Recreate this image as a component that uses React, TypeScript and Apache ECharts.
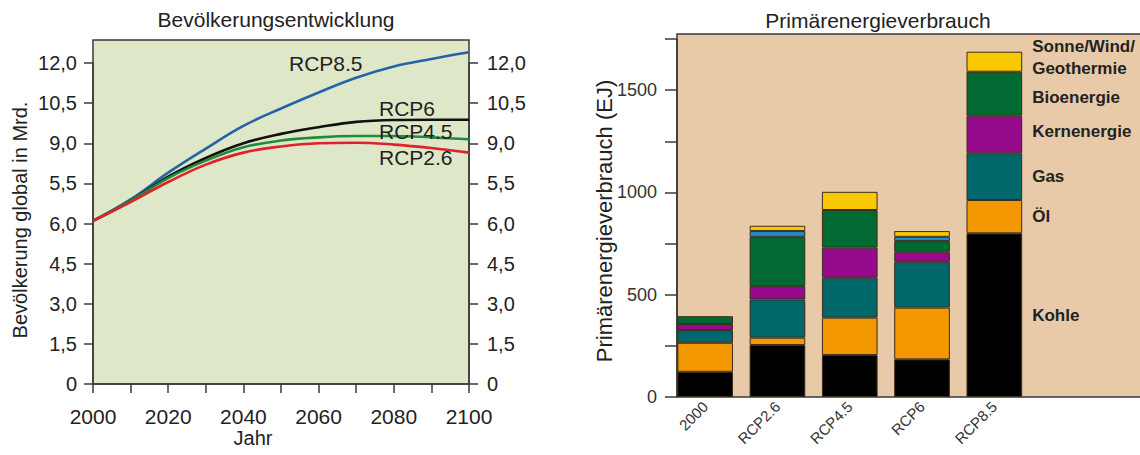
import React, { useEffect, useRef } from "react";
import * as echarts from "echarts";

// ---- Left chart: Bevölkerungsentwicklung ----
const years = [2000, 2010, 2020, 2030, 2040, 2050, 2060, 2070, 2080, 2090, 2100];
const rcp85 = [6.1, 6.9, 7.9, 8.8, 9.65, 10.3, 10.9, 11.45, 11.87, 12.15, 12.4];
const rcp6 = [6.1, 6.85, 7.75, 8.45, 9.0, 9.35, 9.6, 9.8, 9.87, 9.88, 9.88];
const rcp45 = [6.1, 6.85, 7.7, 8.35, 8.85, 9.1, 9.22, 9.27, 9.27, 9.22, 9.15];
const rcp26 = [6.1, 6.8, 7.55, 8.2, 8.65, 8.88, 9.0, 9.02, 8.95, 8.82, 8.65];
const popTickLabels = ["0", "1,5", "3,0", "4,5", "6,0", "5,5", "9,0", "10,5", "12,0"];

// ---- Right chart: Primärenergieverbrauch ----
const scenarios = ["2000", "RCP2.6", "RCP4.5", "RCP6", "RCP8.5"];
const kohle = [123, 254, 205, 184, 800];
const oel = [142, 36, 183, 253, 163];
const gas = [62, 187, 195, 224, 228];
const kern = [30, 65, 147, 49, 184];
const bio = [38, 241, 184, 52, 215];
const wasser = [0, 28, 0, 21, 0];
const sonne = [0, 26, 89, 28, 98];

const FONT = "'Liberation Sans', Arial, Helvetica, sans-serif";

export default function App() {
  const ref = useRef<HTMLDivElement>(null);

  useEffect(() => {
    if (!ref.current) return;
    const chart = echarts.init(ref.current, null, { renderer: "svg" });

    const lineSeries = (name: string, vals: number[], color: string) => ({
      type: "line",
      name,
      xAxisIndex: 0,
      yAxisIndex: 0,
      data: years.map((y, i) => [y, vals[i]]),
      smooth: 0.4,
      showSymbol: false,
      clip: false,
      lineStyle: { color, width: 2.6 },
      z: 5,
    });

    const energy = [
      { name: "Kohle", label: "Kohle", vals: kohle, color: "#000000", dy: 0 },
      { name: "Öl", label: "Öl", vals: oel, color: "#F39800", dy: 0 },
      { name: "Gas", label: "Gas", vals: gas, color: "#00686A", dy: 0 },
      { name: "Kernenergie", label: "Kernenergie", vals: kern, color: "#960A8C", dy: -3 },
      { name: "Bioenergie", label: "Bioenergie", vals: bio, color: "#006A32", dy: 4 },
      { name: "Wasserkraft", label: "", vals: wasser, color: "#1E8CD2", dy: 0 },
      { name: "Sonne/Wind/Geothermie", label: "Sonne/Wind/\nGeothermie", vals: sonne, color: "#FAC800", dy: -4 },
    ];

    const barSeries = energy.map((e) => ({
      type: "bar",
      name: e.name,
      xAxisIndex: 1,
      yAxisIndex: 2,
      stack: "energie",
      barWidth: "77%",
      itemStyle: { color: e.color, borderColor: "#3a2c1c", borderWidth: 1 },
      data: e.vals.map((v, i) =>
        v === 0
          ? null
          : i === scenarios.length - 1 && e.label
          ? {
              value: v,
              label: {
                show: true,
                position: "right",
                distance: 10,
                offset: [0, e.dy],
                formatter: e.label,
                color: "#222",
                fontWeight: "bold",
                fontSize: 17,
                lineHeight: 22,
                fontFamily: FONT,
              },
            }
          : v
      ),
    }));

    const axisLineStyle = { color: "#3a3a3a", width: 1.5 };
    const tickLabelStyle = { color: "#222", fontSize: 20, fontFamily: FONT };

    chart.setOption({
      animation: false,
      backgroundColor: "#ffffff",
      textStyle: { fontFamily: FONT },
      grid: [
        { left: 93, top: 63, width: 376, height: 321, containLabel: false, outerBoundsMode: "none" },
        { left: 669, top: 39, width: 361.5, height: 358, containLabel: false, outerBoundsMode: "none" },
      ],
      xAxis: [
        {
          type: "value",
          gridIndex: 0,
          min: 2000,
          max: 2100,
          interval: 10,
          axisLine: { show: true, lineStyle: axisLineStyle },
          axisTick: { show: true, length: 9, lineStyle: axisLineStyle },
          axisLabel: {
            ...tickLabelStyle,
            fontSize: 21,
            margin: 22,
            formatter: (v: number) => (v % 20 === 0 ? String(v) : ""),
          },
          splitLine: { show: false },
        },
        {
          type: "category",
          gridIndex: 1,
          data: scenarios,
          axisLine: { show: false },
          axisTick: { show: false },
          axisLabel: {
            rotate: 45,
            margin: 7,
            color: "#333",
            fontSize: 15,
            fontFamily: FONT,
            interval: 0,
          },
          splitLine: { show: false },
        },
      ],
      yAxis: [
        {
          type: "value",
          gridIndex: 0,
          position: "left",
          min: 0,
          max: 12,
          interval: 1.5,
          axisLine: { show: true, lineStyle: axisLineStyle },
          axisTick: { show: true, length: 9, lineStyle: axisLineStyle },
          axisLabel: {
            ...tickLabelStyle,
            margin: 16,
            formatter: (v: number) => popTickLabels[Math.round(v / 1.5)] ?? "",
          },
          splitLine: { show: false },
        },
        {
          type: "value",
          gridIndex: 0,
          position: "right",
          min: 0,
          max: 12,
          interval: 1.5,
          axisLine: { show: true, lineStyle: axisLineStyle },
          axisTick: { show: true, length: 9, lineStyle: axisLineStyle },
          axisLabel: {
            ...tickLabelStyle,
            margin: 18,
            formatter: (v: number) => popTickLabels[Math.round(v / 1.5)] ?? "",
          },
          splitLine: { show: false },
        },
        {
          type: "value",
          gridIndex: 1,
          position: "left",
          offset: -8,
          min: 0,
          max: 1750,
          interval: 250,
          axisLine: { show: true, lineStyle: axisLineStyle },
          axisTick: { show: true, length: 12, lineStyle: axisLineStyle },
          axisLabel: {
            color: "#333",
            fontSize: 18,
            fontFamily: FONT,
            margin: 20,
            formatter: (v: number) => (v % 500 === 0 ? String(v) : ""),
          },
          splitLine: { show: false },
        },
      ],
      graphic: [
        {
          type: "rect",
          z: -1,
          shape: { x: 93, y: 40, width: 376, height: 344 },
          style: { fill: "#DEE8C8", stroke: "#3a3a3a", lineWidth: 1.5 },
        },
        {
          type: "rect",
          z: -1,
          shape: { x: 677, y: 34, width: 475, height: 363 },
          style: { fill: "#E8CAA8", stroke: "#3a3a3a", lineWidth: 1.5 },
        },
        {
          type: "text",
          z: 100,
          x: 276,
          y: 19,
          style: { text: "Bevölkerungsentwicklung", fill: "#222", fontSize: 21, fontFamily: FONT, align: "center", verticalAlign: "middle" },
        },
        {
          type: "text",
          z: 100,
          x: 878,
          y: 20,
          style: { text: "Primärenergieverbrauch", fill: "#222", fontSize: 21, fontFamily: FONT, align: "center", verticalAlign: "middle" },
        },
        {
          type: "text",
          z: 100,
          x: 20,
          y: 220,
          rotation: Math.PI / 2,
          style: { text: "Bevölkerung global in Mrd.", fill: "#222", fontSize: 20, fontFamily: FONT, align: "center", verticalAlign: "middle" },
        },
        {
          type: "text",
          z: 100,
          x: 253,
          y: 438,
          style: { text: "Jahr", fill: "#222", fontSize: 20, fontFamily: FONT, align: "center", verticalAlign: "middle" },
        },
        {
          type: "text",
          z: 100,
          x: 604,
          y: 221,
          rotation: Math.PI / 2,
          style: { text: "Primärenergieverbrauch (EJ)", fill: "#222", fontSize: 22, fontFamily: FONT, align: "center", verticalAlign: "middle" },
        },
        {
          type: "text",
          z: 100,
          x: 289,
          y: 63,
          style: { text: "RCP8.5", fill: "#222", fontSize: 21, fontFamily: FONT, align: "left", verticalAlign: "middle" },
        },
        {
          type: "text",
          z: 100,
          x: 379,
          y: 108,
          style: { text: "RCP6", fill: "#222", fontSize: 21, fontFamily: FONT, align: "left", verticalAlign: "middle" },
        },
        {
          type: "text",
          z: 100,
          x: 379,
          y: 131,
          style: { text: "RCP4.5", fill: "#222", fontSize: 21, fontFamily: FONT, align: "left", verticalAlign: "middle" },
        },
        {
          type: "text",
          z: 100,
          x: 379,
          y: 157,
          style: { text: "RCP2.6", fill: "#222", fontSize: 21, fontFamily: FONT, align: "left", verticalAlign: "middle" },
        },
      ],
      series: [
        lineSeries("RCP8.5", rcp85, "#2563A8"),
        lineSeries("RCP6", rcp6, "#111111"),
        lineSeries("RCP4.5", rcp45, "#1F8B3B"),
        lineSeries("RCP2.6", rcp26, "#E0202C"),
        ...barSeries,
      ],
    });

    return () => chart.dispose();
  }, []);

  return (
    <div
      ref={ref}
      style={{ position: "absolute", left: 0, top: 0, width: 1140, height: 455 }}
    />
  );
}
